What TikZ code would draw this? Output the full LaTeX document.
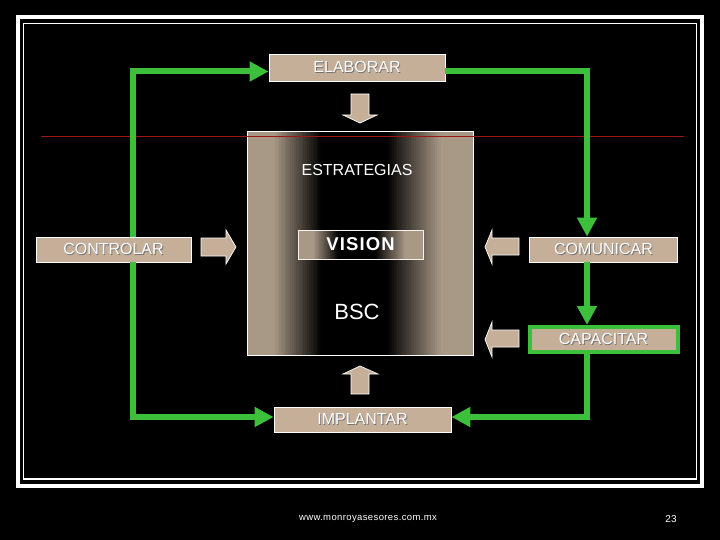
\documentclass[tikz,border=0pt]{standalone}
\usepackage{fontspec}
\setmainfont{Liberation Sans}
\usetikzlibrary{arrows.meta}
\definecolor{tanc}{RGB}{197,175,152}
\definecolor{tanedge}{RGB}{168,152,134}
\definecolor{gline}{RGB}{60,192,60}
\definecolor{redl}{RGB}{155,22,22}
\newcommand\shtext[1]{\rlap{\kern0.9pt\raisebox{-0.9pt}{\color{black!55}#1}}#1}
% horizontal tan-black-tan gradient made of solid strips: x1 y1 x2 y2
\newcommand\mygradbox[4]{%
  \foreach \i in {0,...,119}{%
    \pgfmathsetmacro\gt{(\i+0.5)/120}%
    \pgfmathsetmacro\gp{\gt<0.12 ? 100 : (\gt<0.33 ? 100*(0.33-\gt)/0.21 : (\gt<0.62 ? 0 : (\gt<0.86 ? 100*(\gt-0.62)/0.24 : 100)))}%
    \pgfmathsetmacro\gxa{#1+(#3-#1)/120*\i}%
    \pgfmathsetmacro\gxb{#1+(#3-#1)/120*(\i+1)+0.4}%
    \fill[color=tanedge!\gp!black] (\gxa,#2) rectangle (\gxb,#4);
  }%
}
\tikzset{
  lbl/.style={rectangle, fill=tanc, draw=white, line width=0.8pt, inner sep=0pt, text=white, font=\fontsize{16}{18}\selectfont},
  garrow/.style={draw=gline, line width=6pt, line join=miter, -{Triangle[length=19pt,width=19pt]}},
  tanarrow/.style={fill=tanc, draw=white, line width=0.7pt, line join=miter},
  plain/.style={text=white, inner sep=0pt}
}
\begin{document}
\begin{tikzpicture}[x=1pt,y=-1pt]
\useasboundingbox (0,0) rectangle (720,540);
\fill[black] (0,0) rectangle (720,540);
\draw[white, line width=4pt] (18,17.5) rectangle (702,486);
\draw[white, line width=1.3pt] (23.5,23.5) rectangle (696.5,479);

% central box
\mygradbox{247}{131}{472.6}{355}
\node[draw=white, line width=0.8pt, minimum width=226pt, minimum height=224pt, inner sep=0pt] (bsc) at (360,243) {};
\draw[redl, line width=1.8pt] (41,136.5) -- (684,136.5);
\node[plain, font=\fontsize{16}{18}\selectfont] (estr) at (357,170) {ESTRATEGIAS};
\mygradbox{298}{230}{422.6}{259}
\node[draw=white!85!tanc, line width=0.8pt, minimum width=125pt, minimum height=29pt, inner sep=0pt, text=white, font=\bfseries\fontsize{18.5}{20}\selectfont\addfontfeature{LetterSpace=6}] (vis) at (360.5,244.5) {VISION};
\node[plain, font=\fontsize{22}{24}\selectfont] (bscl) at (357,312) {BSC};

% label boxes
\node[lbl, minimum width=176pt, minimum height=27pt] (elab) at (357,67.5) {\shtext{ELABORAR}};
\node[lbl, minimum width=155pt, minimum height=25pt] (ctrl) at (113.5,249.5) {\shtext{CONTROLAR}};
\node[lbl, minimum width=148pt, minimum height=25pt] (comun) at (603.5,249.5) {\shtext{COMUNICAR}};
\node[lbl, draw=gline, line width=4pt, minimum width=148pt, minimum height=25pt] (capa) at (603.5,339.5) {\shtext{CAPACITAR}};
\node[lbl, minimum width=177pt, minimum height=25pt] (impl) at (362.5,419.5) {\shtext{IMPLANTAR}};

% green loop
\draw[garrow] ([xshift=19.5pt]ctrl.north) |- ([yshift=-4pt]elab.west);
\draw[garrow] ([xshift=19.5pt]ctrl.south) |- ([yshift=2.5pt]impl.west);
\draw[garrow] ([yshift=-4pt]elab.east) -| ([xshift=-16.5pt]comun.north);
\draw[garrow] ([xshift=-16.5pt]comun.south) -- ([xshift=-16.5pt]capa.north);
\draw[garrow] ([xshift=-16.5pt]capa.south) |- ([yshift=2.5pt]impl.east);

% block arrows
\draw[tanarrow] (351,94) -- (369,94) -- (369,115) -- (377,115) -- (360,123) -- (343,115) -- (351,115) -- cycle;
\draw[tanarrow] (351,394) -- (369,394) -- (369,374) -- (378,374) -- (360,366) -- (343,374) -- (351,374) -- cycle;
\draw[tanarrow] (201,238) -- (226,238) -- (226,230) -- (236,247) -- (226,264) -- (226,256) -- (201,256) -- cycle;
\draw[tanarrow] (519,238) -- (492,238) -- (492,230) -- (485,247) -- (492,264) -- (492,255) -- (519,255) -- cycle;
\draw[tanarrow] (519,330) -- (492,330) -- (492,322) -- (485,339.5) -- (492,357) -- (492,347) -- (519,347) -- cycle;

% footer
\node[plain, font=\fontsize{9.5}{11}\selectfont\addfontfeature{LetterSpace=4}] (url) at (368,519) {www.monroyasesores.com.mx};
\node[plain, font=\fontsize{10}{12}\selectfont] (pg) at (671,519) {23};
\end{tikzpicture}
\end{document}
